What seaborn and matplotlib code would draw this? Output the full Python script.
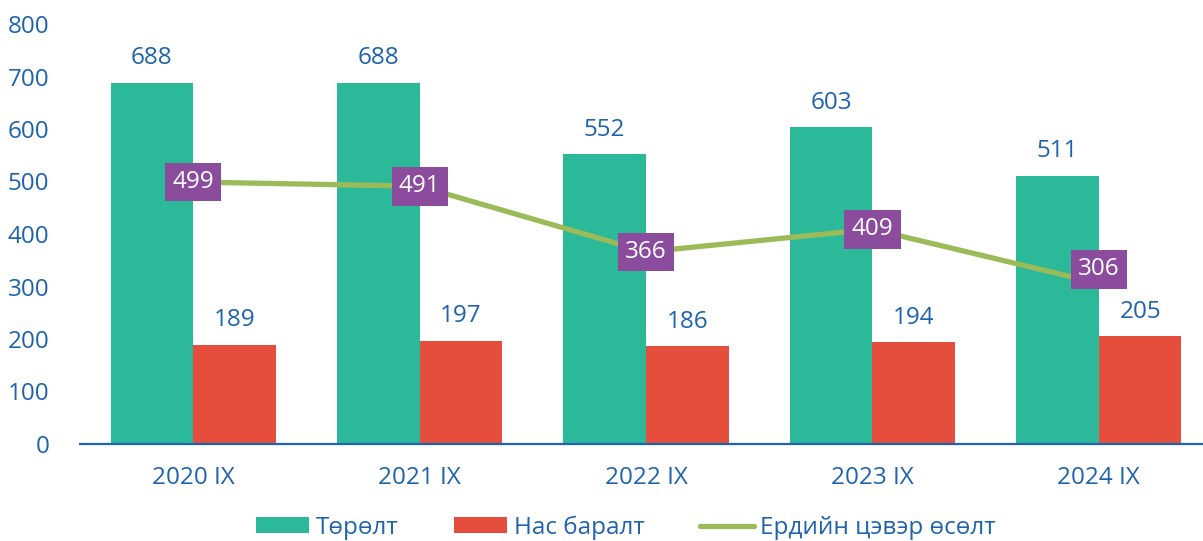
import matplotlib.pyplot as plt
import seaborn as sns
import pandas as pd

years = ['2020 IX', '2021 IX', '2022 IX', '2023 IX', '2024 IX']
births = [688, 688, 552, 603, 511]
deaths = [189, 197, 186, 194, 205]
net_growth = [499, 491, 366, 409, 306]

series_names = ['Төрөлт', 'Нас баралт', 'Ердийн цэвэр өсөлт']

blue = '#1F63AE'
green = '#2BB99A'
red = '#E54D3D'
olive = '#9BBB59'
purple = '#8B4C9E'

df = pd.DataFrame({
    'year': years * 2,
    'value': births + deaths,
    'series': [series_names[0]] * len(years) + [series_names[1]] * len(years),
})

sns.set_style('white')
plt.rcParams['font.family'] = ['Open Sans', 'DejaVu Sans']
fs = 17.5

fig = plt.figure(figsize=(12.03, 5.41), dpi=100)
ax = fig.add_axes([80 / 1203, 1 - 444 / 541, 1 - 80 / 1203, 420 / 541])

sns.barplot(data=df, x='year', y='value', hue='series', order=years,
            palette=[green, red], width=0.73, saturation=1, ax=ax,
            edgecolor='none')

sns.lineplot(x=years, y=net_growth, color=olive, linewidth=3.8, ax=ax,
             label=series_names[2], sort=False)

for cont in ax.containers:
    ax.bar_label(cont, padding=9, fontsize=fs, color=blue)

# last label is nudged up a bit so it clears the red bar's label
for i, v in enumerate(net_growth):
    dy = 10 if i == len(net_growth) - 1 else 0
    ax.annotate(str(v), (i, v), xytext=(0, dy), textcoords='offset points',
                ha='center', va='center', fontsize=fs, color='white', zorder=5,
                bbox=dict(boxstyle='square,pad=0.3', facecolor=purple, edgecolor='none'))

ax.set_ylim(0, 800)
ax.set_xlim(-0.5, 4.46)
ax.set_yticks(range(0, 801, 100))
ax.set_xlabel('')
ax.set_ylabel('')
ax.tick_params(axis='both', length=0, labelsize=fs, labelcolor=blue)
ax.tick_params(axis='x', pad=16)
ax.tick_params(axis='y', pad=22)
for s in ['top', 'right', 'left']:
    ax.spines[s].set_visible(False)
ax.spines['bottom'].set_color(blue)
ax.spines['bottom'].set_linewidth(1.6)
ax.grid(False)

handles, labels = ax.get_legend_handles_labels()
ax.legend_.remove()
leg = fig.legend(handles, labels, loc='center', bbox_to_anchor=(0.52, 0.025),
                 ncol=3, frameon=False, fontsize=fs, handlelength=2.2,
                 handleheight=0.6, handletextpad=0.25, columnspacing=2.3)
for t in leg.get_texts():
    t.set_color(blue)

fig.savefig('out.png', dpi=100)
